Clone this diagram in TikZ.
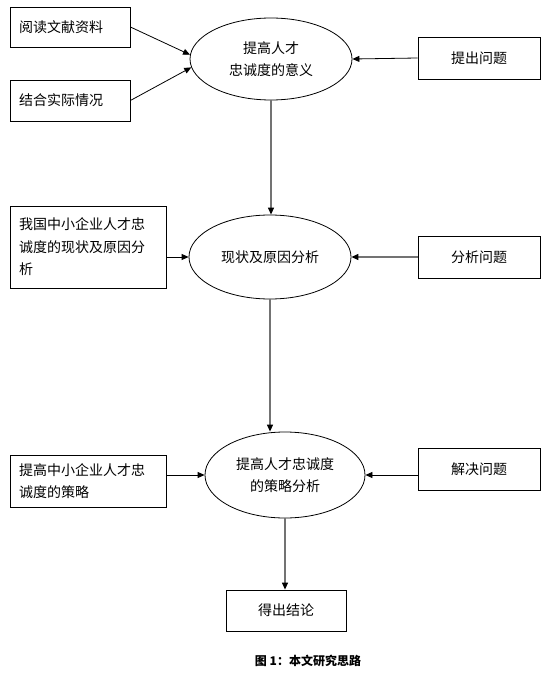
\documentclass[tikz,border=0pt]{standalone}
\usepackage{fontspec}
\setmainfont{Noto Sans CJK SC}
\usetikzlibrary{shapes.geometric, arrows.meta}

\begin{document}
\begin{tikzpicture}[
  x=1pt, y=-1pt,
  box/.style={draw, line width=0.8pt, align=#1, inner xsep=9pt, inner ysep=0pt, font=\fontsize{14}{22.5}\selectfont},
  blob/.style={ellipse, draw, line width=0.8pt, inner sep=0pt, align=center, font=\fontsize{14}{22.5}\selectfont},
  arrow/.style={-{Triangle[length=7pt, width=6pt, color=black]}, line width=#1},
  arrow/.default=0.8pt,
  greyline/.style={draw=black!55, line width=1.2pt},
]
  \useasboundingbox (0,0) rectangle (552,676);

  % Nodes
  \node[blob, minimum width=162pt, minimum height=82pt] (sense) at (271, 59) {提高人才\\忠诚度的意义};
  \node[blob, minimum width=162pt, minimum height=84pt] (status) at (270, 257) {现状及原因分析};
  \node[blob, minimum width=160pt, minimum height=86pt] (plan) at (285, 475) {提高人才忠诚度\\的策略分析};

  \node[box=left, text width=102pt, minimum height=40pt] (read) at (70, 27) {阅读文献资料};
  \node[box=left, text width=102pt, minimum height=41pt] (fact) at (70, 100.5) {结合实际情况};
  \node[box=left, text width=138pt, minimum height=82pt] (china) at (88, 247) {我国中小企业人才忠\\诚度的现状及原因分\\析};
  \node[box=left, text width=138pt, minimum height=52pt] (raise) at (88, 481) {提高中小企业人才忠\\诚度的策略};

  \node[box=center, text width=104pt, minimum height=42pt] (ask) at (479, 58) {提出问题};
  \node[box=center, text width=104pt, minimum height=42pt] (analyse) at (479, 257) {分析问题};
  \node[box=center, text width=104pt, minimum height=42pt] (solve) at (479, 469) {解决问题};

  \node[box=center, text width=102pt, minimum height=41pt] (result) at (286, 610.5) {得出结论};

  % Arrows
  \draw[arrow] (read.east) -- (sense.177);
  \draw[arrow] (fact.east) -- (sense.186);
  \draw[arrow] (ask.west) -- (sense.east);
  \draw[arrow=1.2pt, greyline] (sense.south) -- (sense.south |- status.north);

  \draw[arrow] (china.east |- status.west) -- (status.west);
  \draw[arrow=1.2pt, greyline] (analyse.west) -- (status.east);
  \draw[arrow=1.2pt, greyline] (status.south) -- (status.south |- plan.north);

  \draw[arrow] (raise.east |- plan.west) -- (plan.west);
  \draw[arrow] (solve.west |- plan.east) -- (plan.east);
  \draw[arrow=1.2pt, greyline] (plan.south) -- (plan.south |- result.north);

  % Caption
  \node[font=\bfseries\fontsize{12}{14}\selectfont] (caption) at (308, 661) {图 1：本文研究思路};
\end{tikzpicture}
\end{document}
